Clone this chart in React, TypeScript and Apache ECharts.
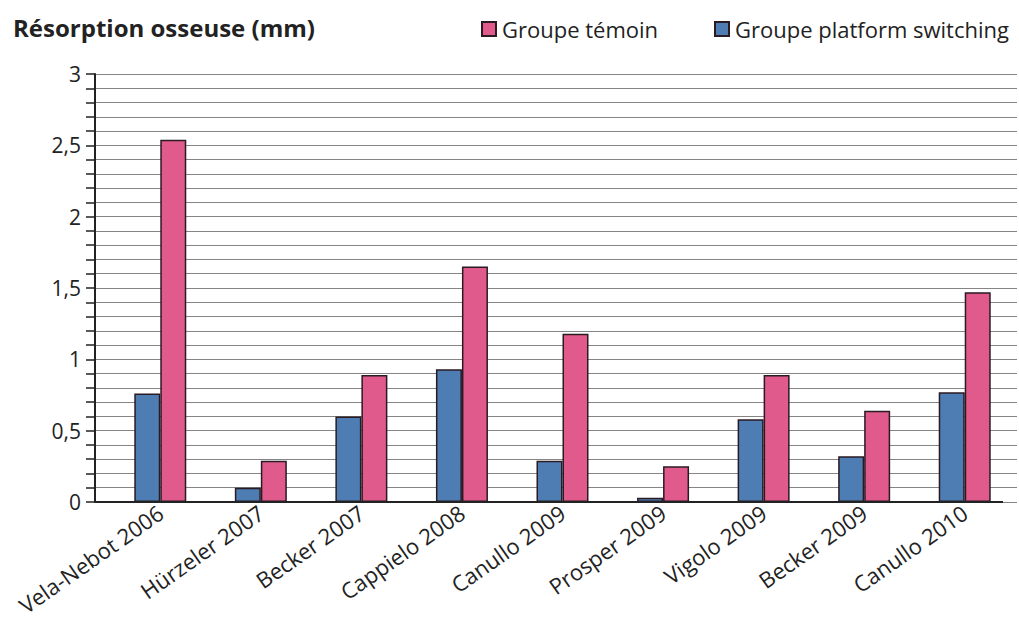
import React, { useEffect, useRef } from "react";
import * as echarts from "echarts";

const categories = [
  "Vela-Nebot 2006",
  "Hürzeler 2007",
  "Becker 2007",
  "Cappielo 2008",
  "Canullo 2009",
  "Prosper 2009",
  "Vigolo 2009",
  "Becker 2009",
  "Canullo 2010",
];
const platformSwitching = [0.76, 0.1, 0.6, 0.93, 0.29, 0.03, 0.58, 0.32, 0.77];
const temoin = [2.54, 0.29, 0.89, 1.65, 1.18, 0.25, 0.89, 0.64, 1.47];
const seriesNames = ["Groupe témoin", "Groupe platform switching"];
const title = "Résorption osseuse (mm)";

const FONT = "Open Sans";
const PINK = "#e05a8c";
const BLUE = "#4d7db3";
const BORDER = "#2a1a22";

const legendBase = {
  top: 13,
  itemWidth: 14,
  itemHeight: 14,
  icon: "rect",
  textStyle: { fontFamily: FONT, fontSize: 22, color: "#222", padding: [0, 0, 0, 1] },
};

export default function App() {
  const ref = useRef<HTMLDivElement>(null);
  useEffect(() => {
    if (!ref.current) return;
    const chart = echarts.init(ref.current, null, { renderer: "svg" });
    chart.setOption({
      animation: false,
      backgroundColor: "#ffffff",
      textStyle: { fontFamily: FONT },
      title: {
        text: title,
        left: 8,
        top: 10,
        textStyle: { fontFamily: FONT, fontSize: 24, fontWeight: "bold", color: "#222" },
      },
      legend: [
        { ...legendBase, data: [seriesNames[0]], left: 476 },
        { ...legendBase, data: [seriesNames[1]], left: 709 },
      ],
      grid: [
        { left: 95, top: 74, width: 922, height: 428 },
        { left: 110, top: 74, width: 905, height: 428 },
      ],
      xAxis: [
        { gridIndex: 0, type: "value", min: 0, max: 1, show: false },
        {
          gridIndex: 1,
          type: "category",
          data: categories,
          axisLine: { show: false },
          axisTick: { show: false },
          axisLabel: {
            rotate: 35,
            margin: 8,
            fontFamily: FONT,
            fontSize: 22,
            color: "#222",
            interval: 0,
          },
        },
      ],
      yAxis: [
        {
          gridIndex: 0,
          type: "value",
          min: 0,
          max: 3,
          interval: 0.1,
          axisLine: { show: true, lineStyle: { color: "#222", width: 2 } },
          axisTick: { show: true, length: 9, lineStyle: { color: "#222", width: 1.5 } },
          splitLine: { show: true, lineStyle: { color: "#858585", width: 1 } },
          axisLabel: {
            margin: 14,
            fontFamily: FONT,
            fontSize: 21,
            color: "#222",
            formatter: (v: number) => {
              const t = Math.round(v * 10);
              if (t % 5 !== 0) return "";
              return String(t / 10).replace(".", ",");
            },
          },
        },
        { gridIndex: 1, type: "value", min: 0, max: 3, show: false },
      ],
      graphic: [
        {
          type: "line",
          shape: { x1: 95, y1: 502, x2: 1003, y2: 502 },
          style: { stroke: "#222", lineWidth: 2 },
          z: 10,
        },
      ],
      series: [
        {
          name: seriesNames[1],
          type: "bar",
          xAxisIndex: 1,
          yAxisIndex: 1,
          data: platformSwitching,
          barWidth: 26,
          barGap: "0%",
          itemStyle: { color: BLUE, borderColor: BORDER, borderWidth: 1.5 },
        },
        {
          name: seriesNames[0],
          type: "bar",
          xAxisIndex: 1,
          yAxisIndex: 1,
          data: temoin,
          barWidth: 26,
          barGap: "0%",
          itemStyle: { color: PINK, borderColor: BORDER, borderWidth: 1.5 },
        },
      ],
    });
    return () => chart.dispose();
  }, []);
  return (
    <div
      ref={ref}
      style={{ position: "fixed", left: 0, top: 0, width: 1019, height: 628 }}
    />
  );
}
